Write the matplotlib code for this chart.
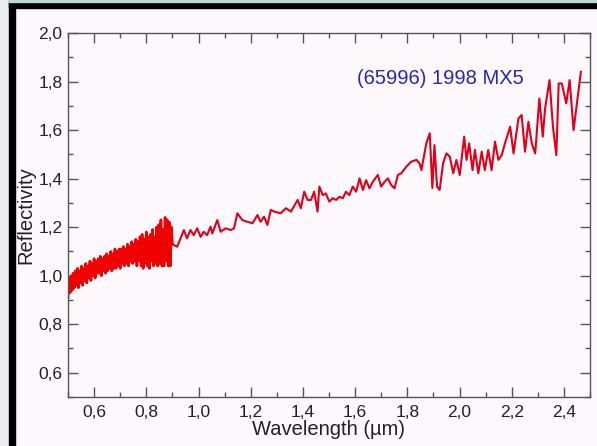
import numpy as np
import matplotlib.pyplot as plt
from matplotlib.patches import Rectangle
from matplotlib.ticker import MultipleLocator, FuncFormatter

# visible part of the spectrum (dense, noisy)
wl_vis = [0.500, 0.504, 0.508, 0.512, 0.516, 0.520, 0.524, 0.528, 0.532, 0.536,
          0.540, 0.544, 0.548, 0.552, 0.556, 0.560, 0.564, 0.568, 0.572, 0.576,
          0.580, 0.584, 0.588, 0.592, 0.596, 0.600, 0.604, 0.608, 0.612, 0.616,
          0.620, 0.624, 0.628, 0.632, 0.636, 0.640, 0.644, 0.648, 0.652, 0.656,
          0.660, 0.664, 0.668, 0.672, 0.676, 0.680, 0.684, 0.688, 0.692, 0.696,
          0.700, 0.704, 0.708, 0.712, 0.716, 0.720, 0.724, 0.728, 0.732, 0.736,
          0.740, 0.744, 0.748, 0.752, 0.756, 0.760, 0.764, 0.768, 0.772, 0.776,
          0.780, 0.784, 0.788, 0.792, 0.796, 0.800, 0.804, 0.808, 0.812, 0.816,
          0.820, 0.824, 0.828, 0.832, 0.836, 0.840, 0.844, 0.848, 0.852, 0.856,
          0.860, 0.864, 0.868, 0.872, 0.876, 0.880, 0.884, 0.888, 0.892, 0.896,
          0.900]
refl_vis = [0.91, 0.99, 0.93, 1.00, 0.94, 1.01, 0.95, 1.02, 0.96, 1.03,
            0.95, 1.02, 0.97, 1.04, 0.96, 1.03, 0.98, 1.05, 0.97, 1.04,
            0.99, 1.06, 0.98, 1.05, 1.00, 1.07, 0.99, 1.06, 1.01, 1.07,
            1.01, 1.08, 1.00, 1.07, 1.02, 1.08, 1.01, 1.09, 1.02, 1.08,
            1.03, 1.10, 1.02, 1.09, 1.03, 1.11, 1.03, 1.10, 1.04, 1.11,
            1.03, 1.11, 1.05, 1.12, 1.04, 1.11, 1.05, 1.13, 1.04, 1.12,
            1.06, 1.14, 1.05, 1.13, 1.06, 1.15, 1.04, 1.14, 1.06, 1.16,
            1.04, 1.17, 1.03, 1.15, 1.05, 1.18, 1.04, 1.16, 1.03, 1.17,
            1.06, 1.19, 1.04, 1.16, 1.05, 1.20, 1.04, 1.21, 1.05, 1.23,
            1.04, 1.19, 1.04, 1.24, 1.06, 1.23, 1.04, 1.22, 1.04, 1.20,
            1.13]

# near-infrared part
wl_nir = [0.918, 0.944, 0.956, 0.969, 0.982, 0.995, 1.008, 1.020, 1.033, 1.046,
          1.053, 1.072, 1.085, 1.104, 1.123, 1.136, 1.149, 1.168, 1.187, 1.207,
          1.226, 1.238, 1.251, 1.264, 1.277, 1.290, 1.315, 1.335, 1.354, 1.380,
          1.392, 1.405, 1.418, 1.431, 1.443, 1.456, 1.463, 1.476, 1.488, 1.501,
          1.514, 1.527, 1.540, 1.553, 1.565, 1.578, 1.591, 1.604, 1.617, 1.630,
          1.642, 1.655, 1.668, 1.687, 1.700, 1.713, 1.726, 1.738, 1.751, 1.764,
          1.777, 1.796, 1.815, 1.835, 1.847, 1.854, 1.873, 1.886, 1.896, 1.904,
          1.914, 1.924, 1.937, 1.950, 1.963, 1.976, 1.988, 2.001, 2.018, 2.027,
          2.037, 2.050, 2.059, 2.072, 2.085, 2.097, 2.110, 2.123, 2.136, 2.149,
          2.162, 2.174, 2.194, 2.207, 2.226, 2.238, 2.251, 2.264, 2.277, 2.290,
          2.306, 2.319, 2.328, 2.345, 2.358, 2.371, 2.380, 2.392, 2.409, 2.422,
          2.437, 2.465]
refl_nir = [1.119, 1.188, 1.154, 1.188, 1.167, 1.195, 1.160, 1.181, 1.167, 1.202,
            1.174, 1.229, 1.181, 1.195, 1.188, 1.195, 1.257, 1.229, 1.222, 1.216,
            1.250, 1.222, 1.243, 1.209, 1.271, 1.264, 1.257, 1.278, 1.264, 1.312,
            1.278, 1.346, 1.312, 1.312, 1.346, 1.264, 1.367, 1.332, 1.339, 1.305,
            1.319, 1.312, 1.325, 1.319, 1.346, 1.332, 1.367, 1.346, 1.401, 1.353,
            1.394, 1.360, 1.387, 1.415, 1.367, 1.387, 1.401, 1.374, 1.360, 1.415,
            1.422, 1.449, 1.470, 1.477, 1.463, 1.435, 1.546, 1.587, 1.361, 1.538,
            1.367, 1.353, 1.463, 1.504, 1.490, 1.422, 1.477, 1.415, 1.573, 1.477,
            1.545, 1.435, 1.518, 1.422, 1.511, 1.435, 1.518, 1.435, 1.552, 1.477,
            1.497, 1.545, 1.614, 1.504, 1.648, 1.662, 1.511, 1.634, 1.545, 1.504,
            1.730, 1.573, 1.690, 1.806, 1.614, 1.497, 1.792, 1.792, 1.710, 1.806,
            1.600, 1.840]

plt.rcParams['font.family'] = ['Liberation Sans', 'DejaVu Sans']

fig = plt.figure(figsize=(5.97, 4.46), dpi=100, facecolor='#fdf8fc')

# screenshot frame
fig.patches.append(Rectangle((0, 0), 9 / 597, 1, transform=fig.transFigure,
                             color='#eeecf3', zorder=0))
fig.patches.append(Rectangle((9 / 597, 0), 6 / 597, 1, transform=fig.transFigure,
                             color='black', zorder=0))
fig.patches.append(Rectangle((9 / 597, 1 - 8 / 446), 1, 6 / 446, transform=fig.transFigure,
                             color='black', zorder=0))
fig.patches.append(Rectangle((9 / 597, 1 - 2 / 446), 1, 2 / 446, transform=fig.transFigure,
                             color='#b9d8d6', zorder=0))

ax = fig.add_axes([68 / 597, 1 - 397 / 446, 522 / 597, 364 / 446])
ax.set_facecolor('#fdf8fc')

# NIR line starts where the visible one ends so the spectrum is continuous
ax.plot(wl_vis[-1:] + wl_nir, refl_vis[-1:] + refl_nir, color='#e0001a', lw=1.5)
ax.plot(wl_vis, refl_vis, color='#f00000', lw=1.9)

ax.set_xlim(0.5, 2.5)
ax.set_ylim(0.5, 2.0)
ax.xaxis.set_major_locator(MultipleLocator(0.2))
ax.xaxis.set_minor_locator(MultipleLocator(0.1))
ax.yaxis.set_major_locator(MultipleLocator(0.2))
ax.yaxis.set_minor_locator(MultipleLocator(0.1))

# comma decimals; no label at 0.5 / 2.5
ax.yaxis.set_major_formatter(FuncFormatter(
    lambda v, p: f"{v:.1f}".replace('.', ',') if v > 0.55 else ''))
ax.xaxis.set_major_formatter(FuncFormatter(
    lambda v, p: f"{v:.1f}".replace('.', ',') if 0.55 < v < 2.45 else ''))

for s in ax.spines.values():
    s.set_color('#555555')
    s.set_linewidth(1.0)

ax.tick_params(which='both', direction='in', top=True, right=True, color='#555555',
               labelsize=12.5, labelcolor='#222222')
ax.tick_params(which='major', length=7.5, width=1.0)
ax.tick_params(which='minor', length=3.8, width=1.0)
ax.tick_params(axis='x', pad=6)
ax.tick_params(axis='y', pad=4)

ax.set_xlabel('Wavelength (\u00b5m)', fontsize=14.5, color='#222222', labelpad=0)
ax.set_ylabel('Reflectivity', fontsize=14.5, color='#222222', labelpad=2)

ax.text(0.553, 0.86, '(65996) 1998 MX5', transform=ax.transAxes,
        fontsize=14.5, color='#2626b8')

fig.savefig('out.png', dpi=100, facecolor=fig.get_facecolor())
